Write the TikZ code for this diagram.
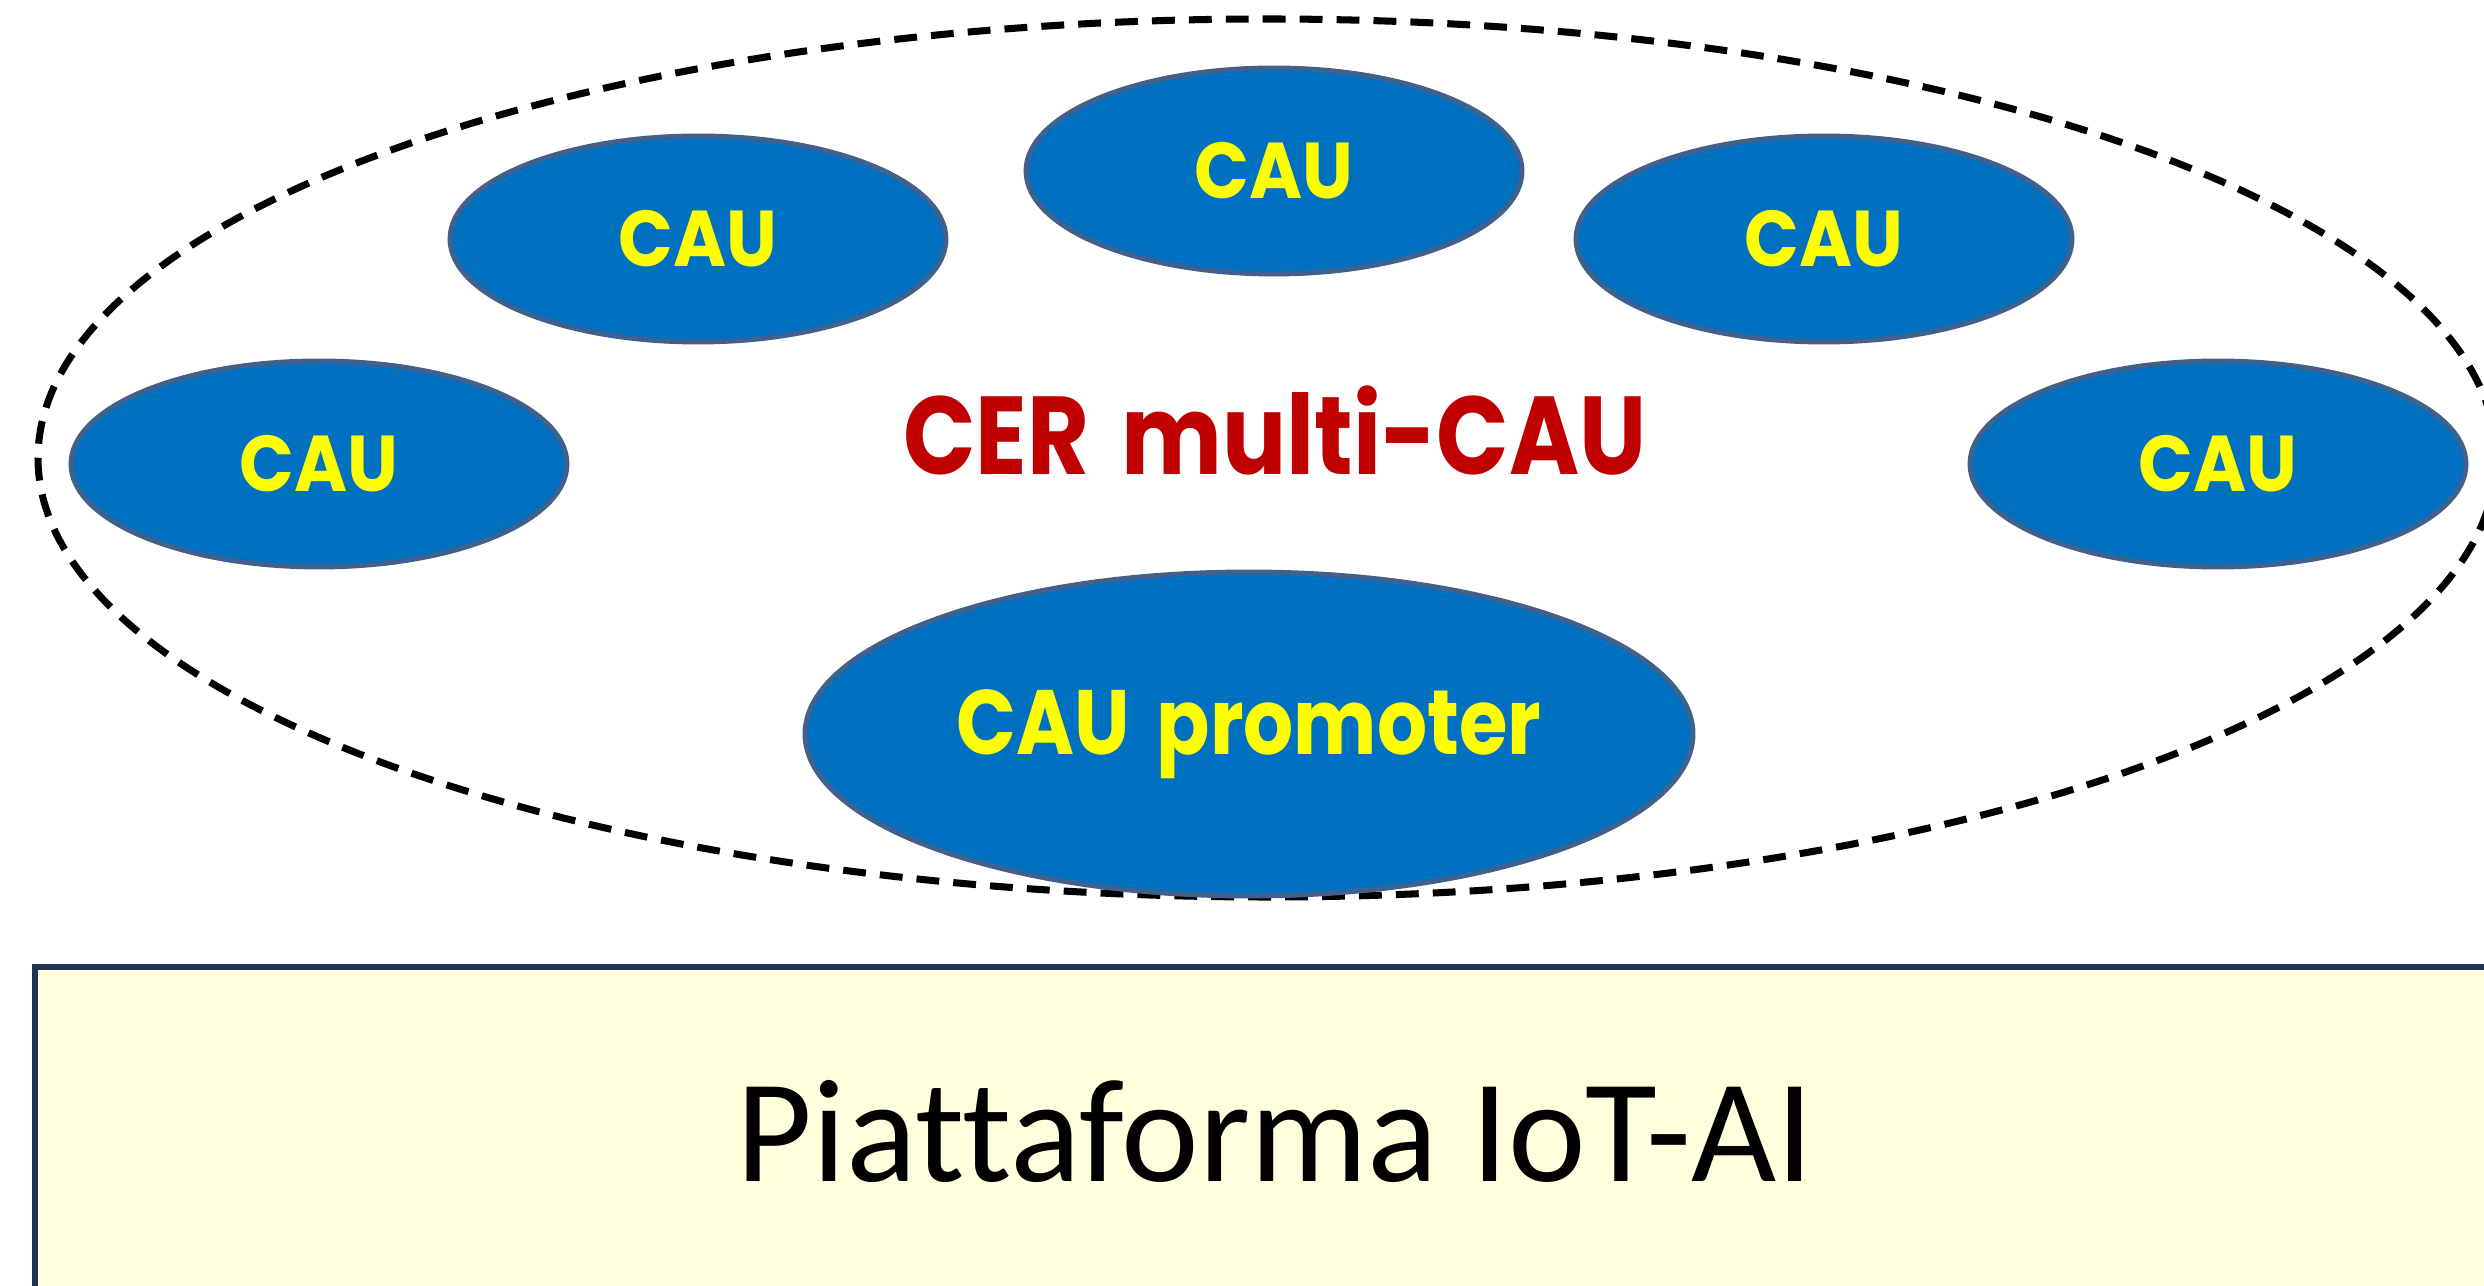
\documentclass[tikz,border=0pt]{standalone}
\usepackage{fontspec}
\usetikzlibrary{shapes.geometric}
\newfontfamily\gothic{Poppins}[FakeStretch=0.86, WordSpace=1.6]
\newfontfamily\gothicw{Poppins}[FakeStretch=0.91]
\newfontfamily\calib{Carlito}[Ligatures=NoCommon]
\definecolor{caublue}{HTML}{0070C0}
\definecolor{cauedge}{HTML}{41608C}
\definecolor{cauyellow}{HTML}{FFFF00}
\definecolor{cerred}{HTML}{C00000}
\definecolor{boxfill}{HTML}{FFFFDD}
\definecolor{boxedge}{HTML}{1F3552}
\newlength{\pxu}
\setlength{\pxu}{0.01cm}
\tikzset{
  cau/.style={ellipse, draw=cauedge, line width=1.4pt, fill=caublue, inner sep=0pt,
    minimum width=496\pxu, minimum height=206\pxu,
    text=cauyellow, font=\gothicw\bfseries\fontsize{22.5}{24}\selectfont},
  promo/.style={cau, minimum width=888\pxu, minimum height=324\pxu,
    font=\gothic\bfseries\fontsize{26}{28}\selectfont},
  cer/.style={ellipse, draw=black, line width=2pt, dash pattern=on 6.5pt off 4pt,
    inner sep=0pt, minimum width=2458\pxu, minimum height=878\pxu},
}
\begin{document}
\begin{tikzpicture}[x=0.01cm, y=-0.01cm]
\useasboundingbox (0,0) rectangle (2484,1286);
\clip (0,0) rectangle (2484,1286);
\node[cer] (cer) at (1267,458) {};
\node[cau] (c1) at (319,464) {CAU};
\node[cau] (c2) at (698,239) {CAU};
\node[cau] (c3) at (1274,171) {CAU};
\node[cau] (c4) at (1824,239) {CAU};
\node[cau] (c5) at (2218,464) {CAU};
\node[promo] (cp) at (1249,734) {CAU promoter};
\node[text=cerred, font=\gothic\bfseries\fontsize{31.5}{34}\selectfont] (title) at (1275,431) {CER multi-CAU};
\draw[draw=boxedge, line width=1.7pt, fill=boxfill] (35,967) rectangle (2520,1320);
\node[font=\calib\fontsize{41.8}{45}\selectfont] (iot) at (1275,1131) {Piattaforma IoT-AI};
\end{tikzpicture}
\end{document}
